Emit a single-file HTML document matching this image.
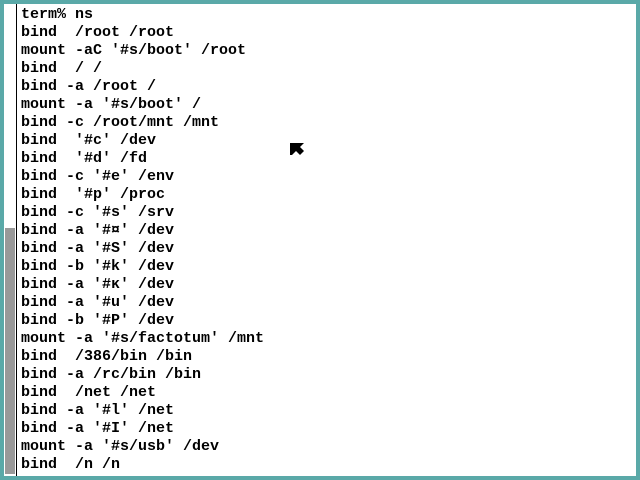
<!DOCTYPE html>
<html><head><style>
html,body{margin:0;padding:0;}
body{width:640px;height:480px;background:#5aa9a8;position:relative;overflow:hidden;}
#win{position:absolute;left:4px;top:4px;width:632px;height:472px;background:#fff;}
#sb{position:absolute;left:1px;top:224px;width:10px;height:246px;background:#999;}
#ln{position:absolute;left:12px;top:0;width:1px;height:472px;background:#000;}
pre{position:absolute;left:17px;top:2px;margin:0;font-family:"Liberation Mono",monospace;font-weight:bold;font-size:15px;line-height:18px;color:#000;letter-spacing:0;}
</style></head><body>
<div id="win"><div id="sb"></div><div id="ln"></div>
<pre>term% ns
bind  /root /root
mount -aC '#s/boot' /root
bind  / /
bind -a /root /
mount -a '#s/boot' /
bind -c /root/mnt /mnt
bind  '#c' /dev
bind  '#d' /fd
bind -c '#e' /env
bind  '#p' /proc
bind -c '#s' /srv
bind -a '#¤' /dev
bind -a '#S' /dev
bind -b '#k' /dev
bind -a '#κ' /dev
bind -a '#u' /dev
bind -b '#P' /dev
mount -a '#s/factotum' /mnt
bind  /386/bin /bin
bind -a /rc/bin /bin
bind  /net /net
bind -a '#l' /net
bind -a '#I' /net
mount -a '#s/usb' /dev
bind  /n /n</pre>
<svg style="position:absolute;left:286px;top:139px" width="16" height="16"><polygon points="0,0 14,0 10,4 14,8 10,12 6,8 2,12 0,12" fill="#000"/></svg>
</div>
</body></html>
